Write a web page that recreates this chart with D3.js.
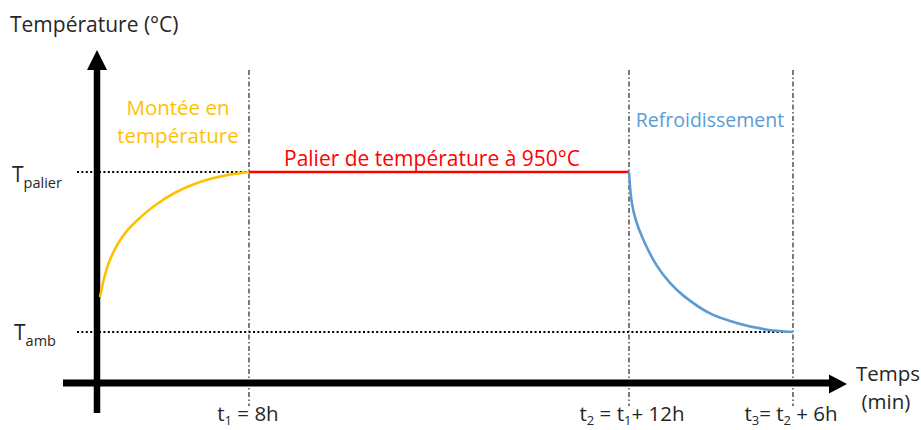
<!DOCTYPE html>
<html>
<head>
<meta charset="utf-8">
<script src="https://cdn.jsdelivr.net/npm/d3@7"></script>
<style>
  html, body { margin: 0; padding: 0; background: #fff; }
  svg { display: block; font-family: "Open Sans", Lato, sans-serif; }
</style>
</head>
<body>
<svg id="chart" width="921" height="430"></svg>
<script>
// ---- data ----
const phaseTimes = [0, 8, 20, 26];            // hours: start, t1, t2, t3
const tempLevels = [20, 950];                 // T_amb, T_palier (°C)

const heatTime = [0, 0.25, 0.5, 1, 1.5, 2, 3, 4, 5, 6, 7, 8];
const heatTemp = [223, 345, 430, 540, 615, 670, 760, 828, 877, 912, 935, 950];

const plateauTime = [8, 20];
const plateauTemp = [950, 950];

const coolTime = [20, 20.1, 20.25, 20.5, 21, 21.5, 22, 23, 24, 25, 26];
const coolTemp = [950, 775, 670, 565, 410, 305, 230, 125, 70, 35, 20];

const markerTimes = [8, 20, 26];
const yAxisTitle = "Température (°C)";
const xAxisTitle = ["Temps", "(min)"];
const phaseLabels = { heat: ["Montée en", "température"], plateau: "Palier de température à 950°C", cool: "Refroidissement" };

// ---- layout ----
const svg = d3.select("#chart");
const x = d3.scaleLinear().domain(phaseTimes).range([100, 249, 629, 793]);
const y = d3.scaleLinear().domain(tempLevels).range([332, 172]);

const txt = "#262626";
const orange = "#FFC000", red = "#FF0000", blue = "#5B9BD5";

// dotted reference lines (T_palier, T_amb)
svg.append("line").attr("x1", 77).attr("x2", x(8)).attr("y1", y(950)).attr("y2", y(950))
  .attr("stroke", "#000").attr("stroke-width", 2.2).attr("stroke-dasharray", "2,2.4");
svg.append("line").attr("x1", 77).attr("x2", x(26)).attr("y1", y(20)).attr("y2", y(20))
  .attr("stroke", "#000").attr("stroke-width", 2.2).attr("stroke-dasharray", "2,2.4");

// dash-dot vertical markers
svg.selectAll("line.vmark").data(markerTimes).join("line")
  .attr("class", "vmark")
  .attr("x1", d => x(d)).attr("x2", d => x(d))
  .attr("y1", 70).attr("y2", 406)
  .attr("stroke", "#333").attr("stroke-width", 1.3)
  .attr("stroke-dasharray", "5,2.5,1.5,2.5");

// axes
svg.append("line").attr("x1", x(0) - 3).attr("x2", x(0) - 3).attr("y1", 413).attr("y2", 69)
  .attr("stroke", "#000").attr("stroke-width", 6.5);
svg.append("path")
  .attr("d", `M${x(0) - 3},50 L${x(0) - 13},70 L${x(0) + 7},70 Z`).attr("fill", "#000");
svg.append("line").attr("x1", 63).attr("x2", 831).attr("y1", 383).attr("y2", 383)
  .attr("stroke", "#000").attr("stroke-width", 7);
svg.append("path")
  .attr("d", `M847,384 L829,374.5 L829,393.5 Z`).attr("fill", "#000");

// curves
const line = d3.line().x(d => x(d[0])).y(d => y(d[1])).curve(d3.curveCatmullRom.alpha(0.5));
svg.append("path").datum(d3.zip(heatTime, heatTemp)).attr("d", line)
  .attr("fill", "none").attr("stroke", orange).attr("stroke-width", 2.6);
svg.append("path").datum(d3.zip(plateauTime, plateauTemp)).attr("d", line)
  .attr("fill", "none").attr("stroke", red).attr("stroke-width", 2.6);
svg.append("path").datum(d3.zip(coolTime, coolTemp)).attr("d", line)
  .attr("fill", "none").attr("stroke", blue).attr("stroke-width", 2.6);

// text
const fs = 21;
svg.append("text").attr("x", 10).attr("y", 32).attr("font-size", fs).attr("fill", txt).text(yAxisTitle);

svg.append("text").attr("x", 178).attr("y", 115).attr("text-anchor", "middle")
  .attr("font-size", fs - 0.5).attr("fill", orange).text(phaseLabels.heat[0]);
svg.append("text").attr("x", 178).attr("y", 143).attr("text-anchor", "middle")
  .attr("font-size", fs - 0.5).attr("fill", orange).text(phaseLabels.heat[1]);
svg.append("text").attr("x", 432).attr("y", 166).attr("text-anchor", "middle")
  .attr("font-size", fs).attr("fill", red).text(phaseLabels.plateau);
svg.append("text").attr("x", 710).attr("y", 127).attr("text-anchor", "middle")
  .attr("font-size", fs - 1.5).attr("fill", blue).text(phaseLabels.cool);

// T labels with subscripts
function subLabel(xp, yp, main, sub) {
  const t = svg.append("text").attr("x", xp).attr("y", yp).attr("font-size", fs).attr("fill", txt);
  t.append("tspan").text(main);
  t.append("tspan").attr("font-size", 14.5).attr("dy", 6).text(sub);
}
subLabel(12, y(950) + 9.5, "T", "palier");
subLabel(14, y(20) + 7.5, "T", "amb");

// time tick labels with subscripts
function tickLabel(xp, parts) {
  const t = svg.append("text").attr("x", xp).attr("y", 421).attr("text-anchor", "middle")
    .attr("font-size", fs - 0.5).attr("fill", txt);
  parts.forEach(p => {
    if (p.sub) t.append("tspan").attr("font-size", 13).attr("dy", 4).text(p.sub);
    else t.append("tspan").attr("dy", p.after ? -4 : 0).text(p.t);
  });
}
tickLabel(x(8) - 1, [{t: "t"}, {sub: "1"}, {t: " = 8h", after: true}]);
tickLabel(x(20) + 3, [{t: "t"}, {sub: "2"}, {t: " = t", after: true}, {sub: "1"}, {t: "+ 12h", after: true}]);
tickLabel(x(26) - 2, [{t: "t"}, {sub: "3"}, {t: "= t", after: true}, {sub: "2"}, {t: " + 6h", after: true}]);

svg.append("text").attr("x", 888).attr("y", 381).attr("text-anchor", "middle")
  .attr("font-size", fs - 0.5).attr("fill", txt).text(xAxisTitle[0]);
svg.append("text").attr("x", 886).attr("y", 409).attr("text-anchor", "middle")
  .attr("font-size", fs - 0.5).attr("fill", txt).text(xAxisTitle[1]);
</script>
</body>
</html>
